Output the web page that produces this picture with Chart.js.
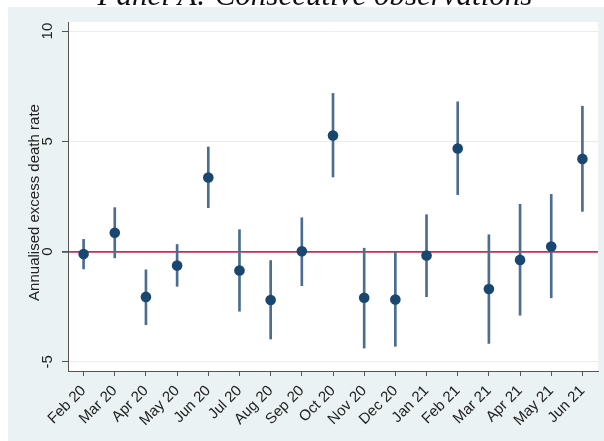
<!DOCTYPE html>
<html>
<head>
<meta charset="utf-8">
<script src="https://cdn.jsdelivr.net/npm/chart.js@4"></script>
<style>
html,body{margin:0;padding:0;background:#ffffff;}
canvas{display:block;}
</style>
</head>
<body>
<canvas id="c" width="604" height="441"></canvas>
<script>
const categories = ['Feb 20','Mar 20','Apr 20','May 20','Jun 20','Jul 20','Aug 20','Sep 20','Oct 20','Nov 20','Dec 20','Jan 21','Feb 21','Mar 21','Apr 21','May 21','Jun 21'];
const estimates = [-0.11, 0.85, -2.06, -0.64, 3.36, -0.86, -2.20, 0.01, 5.26, -2.10, -2.18, -0.18, 4.67, -1.70, -0.38, 0.23, 4.20];
const ciLow    = [-0.79, -0.29, -3.32, -1.58, 1.99, -2.71, -3.97, -1.55, 3.38, -4.38, -4.30, -2.05, 2.58, -4.17, -2.89, -2.10, 1.82];
const ciHigh   = [0.55, 1.99, -0.83, 0.32, 4.74, 0.99, -0.41, 1.53, 7.17, 0.15, -0.03, 1.67, 6.79, 0.76, 2.14, 2.59, 6.59];
const yTicks = [-5, 0, 5, 10];
const titleText = 'Panel A: Consecutive observations';
const yTitle = 'Annualised excess death rate';

const BG = '#eaf2f3';
const AXIS = '#555555';

const decor = {
  id: 'decor',
  beforeDraw(chart) {
    const ctx = chart.ctx, a = chart.chartArea;
    ctx.save();
    ctx.fillStyle = '#ffffff';
    ctx.fillRect(0, 0, chart.width, chart.height);
    ctx.fillStyle = BG;
    ctx.fillRect(8, 7, chart.width - 8, chart.height - 7);
    ctx.fillStyle = '#ffffff';
    ctx.fillRect(a.left, a.top, a.right - a.left, a.bottom - a.top);
    ctx.restore();
  },
  afterDraw(chart) {
    const ctx = chart.ctx, a = chart.chartArea, ys = chart.scales.y;
    ctx.save();
    ctx.fillStyle = '#111111';
    ctx.font = 'italic 31px "Liberation Serif"';
    ctx.textAlign = 'center';
    ctx.textBaseline = 'alphabetic';
    ctx.fillText(titleText, 315, 5);
    ctx.fillStyle = '#222222';
    ctx.font = '15px "Liberation Sans"';
    ctx.textBaseline = 'middle';
    yTicks.forEach(v => {
      const y = ys.getPixelForValue(v);
      ctx.save();
      ctx.translate(48, y);
      ctx.rotate(-Math.PI / 2);
      ctx.fillText(String(v), 0, 0);
      ctx.restore();
    });
    ctx.save();
    ctx.translate(35, (a.top + a.bottom) / 2 + 6);
    ctx.rotate(-Math.PI / 2);
    ctx.fillStyle = '#222222';
    ctx.font = '15px "Liberation Sans"';
    ctx.fillText(yTitle, 0, 0);
    ctx.restore();
    ctx.restore();
  }
};

new Chart(document.getElementById('c'), {
  type: 'bar',
  data: {
    labels: categories,
    datasets: [
      {
        type: 'line',
        data: estimates,
        showLine: false,
        pointRadius: 5.3,
        pointHoverRadius: 5.3,
        pointBackgroundColor: '#1a476f',
        pointBorderWidth: 0,
        borderColor: '#1a476f',
        order: 0
      },
      {
        type: 'bar',
        data: ciLow.map((l, i) => [l, ciHigh[i]]),
        backgroundColor: '#4c6d91',
        borderWidth: 0,
        barThickness: 2,
        order: 1
      }
    ]
  },
  options: {
    responsive: false,
    animation: false,
    layout: { padding: { left: 0, right: 6, top: 22, bottom: 0 } },
    plugins: { legend: { display: false }, tooltip: { enabled: false }, title: { display: false } },
    scales: {
      x: {
        type: 'category',
        offset: true,
        grid: { display: true, drawOnChartArea: false, drawTicks: true, tickLength: 5, tickColor: AXIS, offset: false },
        border: { display: true, color: AXIS, width: 1 },
        ticks: { color: '#222222', font: { family: 'Liberation Sans', size: 15 }, minRotation: 45, maxRotation: 45, autoSkip: false, padding: 6 },
        afterFit(s) { s.height = 70; }
      },
      y: {
        type: 'linear',
        min: -5.42,
        max: 10.41,
        afterBuildTicks(s) { s.ticks = yTicks.map(v => ({ value: v })); },
        grid: {
          display: true,
          drawOnChartArea: true,
          drawTicks: true,
          tickLength: 6,
          tickColor: AXIS,
          color: c => (c.tick && c.tick.value === 0) ? '#cc2d50' : '#e6eef0',
          lineWidth: c => (c.tick && c.tick.value === 0) ? 1.8 : 1
        },
        border: { display: true, color: AXIS, width: 1 },
        ticks: { color: 'rgba(0,0,0,0)', font: { size: 14 } },
        afterFit(s) { s.width = 68; }
      }
    }
  },
  plugins: [decor]
});
</script>
</body>
</html>
